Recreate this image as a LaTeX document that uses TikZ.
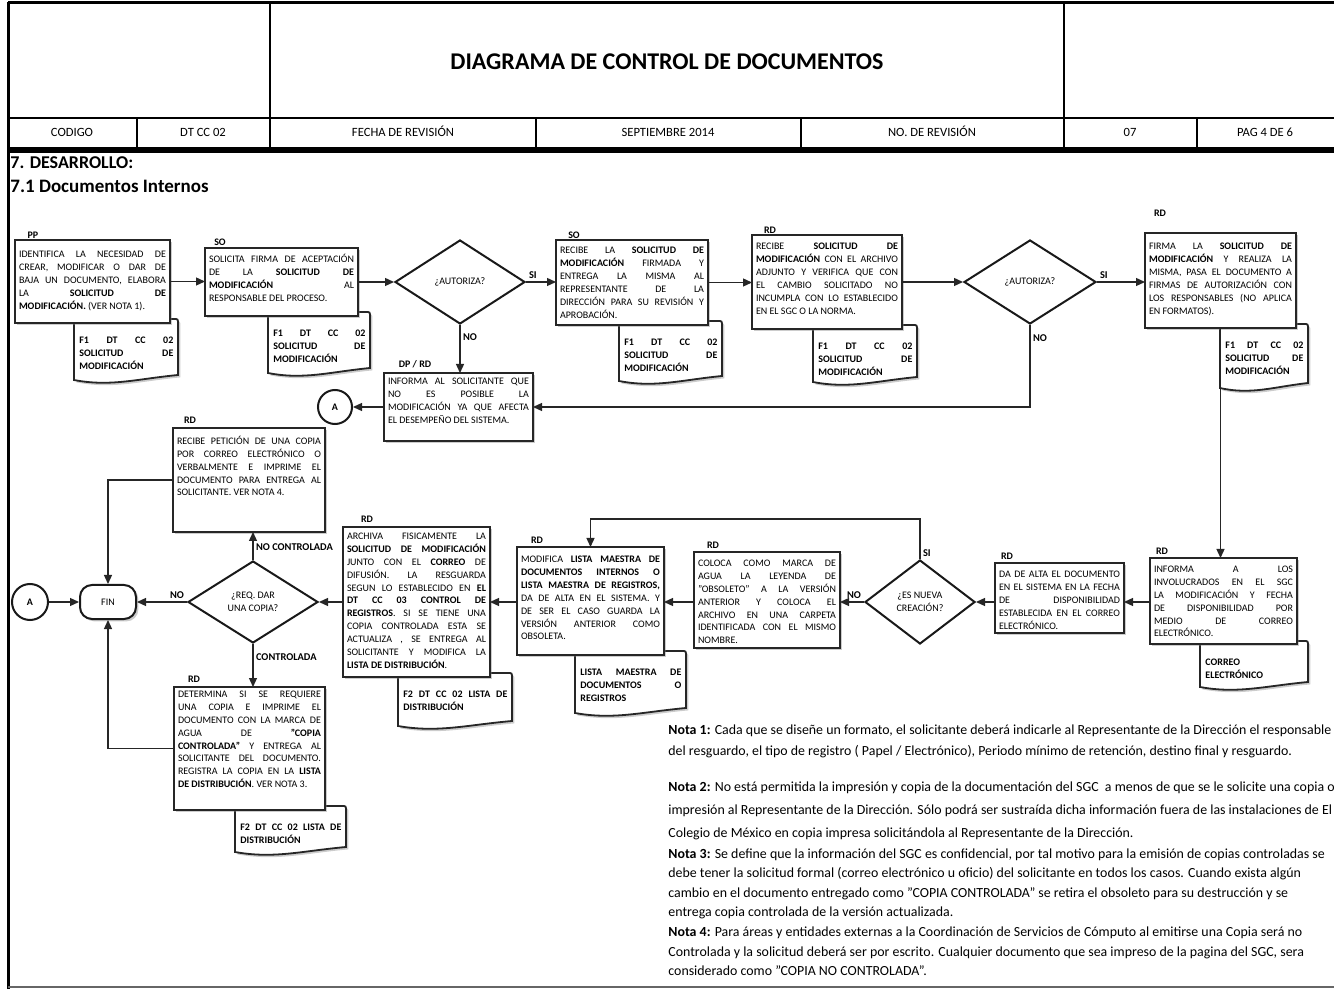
\documentclass[tikz,border=0pt]{standalone}
\usepackage{fontspec}
\setmainfont{Carlito}
\usetikzlibrary{shapes.geometric,arrows.meta,shadows,calc}
\newcommand\boxfont{\fontsize{5}{6.45}\selectfont}
\newcommand\JL[1]{\makebox[\linewidth][s]{#1}\par}
\newcommand\ProcBox[7]{%
  \pgfmathsetmacro\bw{(#4-#2)*0.5-4}%
  \pgfmathsetmacro\bh{(#5-#3)*0.5-3}%
  \node[pbox, anchor=north west] (#1) at (#2,#3) {\parbox[c][\bh pt][t]{\bw pt}{\boxfont\vspace*{#6pt}#7}};%
}
\newcommand\DocShape[6]{%
  \path[docshape] (#2,#4) -- ({#3-4},#4) .. controls (#3,#4) .. (#3,{#4+5}) -- (#3,{#5-8})
     .. controls ({#2+0.6*(#3-#2)},{#5-4}) and ({#2+0.35*(#3-#2)},{#5+4}) .. (#2,{#5-3}) -- cycle;
  \pgfmathsetmacro\dw{(#3-#2)*0.5-5}%
  \node[doctext, anchor=north west] (#1) at ({#2+5},{#4+18}) {\parbox{\dw pt}{\boxfont\bfseries #6}};%
}
\tikzset{
  shad/.style={drop shadow={shadow xshift=1.2pt, shadow yshift=-1.2pt, opacity=0.4}},
  pbox/.style={draw=black!85, line width=1.1pt, fill=white, inner xsep=2pt, inner ysep=1.5pt, outer sep=0pt, shad},
  docshape/.style={draw=black!85, line width=0.9pt, fill=white, shad},
  doctext/.style={inner sep=0pt},
  dec/.style={diamond, draw=black!90, line width=1pt, fill=white, inner sep=0pt, align=center, font=\boxfont},
  role/.style={inner sep=0pt, font=\boxfont\bfseries},
  lbl/.style={inner sep=1.2pt, font=\fontsize{5.2}{6}\selectfont\bfseries},
  arr/.style={draw=black!85, line width=0.65pt, -{Triangle[length=4.5pt,width=4pt]}},
  hdr/.style={inner sep=0pt, anchor=base, font=\fontsize{6.3}{7}\selectfont},
  conn/.style={circle, draw=black!90, line width=1pt, fill=white, inner sep=0pt, font=\boxfont\bfseries},
  term/.style={rectangle, rounded corners=6pt, draw=black!90, line width=1pt, fill=white, minimum width=28pt, minimum height=17pt, inner sep=0pt, font=\boxfont, shad},
  note/.style={inner sep=0pt, anchor=north west, align=left}
}
\begin{document}
\begin{tikzpicture}[x=0.5pt,y=-0.5pt]
\useasboundingbox (0,0) rectangle (1334,989);
% ---------- frame / header ----------
\draw[line width=1.5pt] (8,3) -- (1334,3);
\draw[line width=1.5pt] (8,2.2) -- (8,989);
\draw[line width=0.6pt] (8,118) -- (1334,118);
\draw[line width=0.6pt] (270,3) -- (270,148);
\draw[line width=0.6pt] (1064,3) -- (1064,148);
\foreach \x in {137,536,801,1197} \draw[line width=0.6pt] (\x,118) -- (\x,148);
\draw[line width=3pt] (8,150) -- (1334,150);
\draw[black!60, line width=0.8pt] (8,987) -- (1334,987);
\node[inner sep=0pt, font=\fontsize{12}{14}\selectfont\bfseries] (title) at (667,62) {DIAGRAMA DE CONTROL DE DOCUMENTOS};
\node[hdr] (h1) at (72,137) {CODIGO};
\node[hdr] (h2) at (203,137) {DT CC 02};
\node[hdr] (h3) at (403,137) {FECHA DE REVISIÓN};
\node[hdr] (h4) at (668,137) {SEPTIEMBRE 2014};
\node[hdr] (h5) at (932,137) {NO. DE REVISIÓN};
\node[hdr] (h6) at (1130,137) {07};
\node[hdr] (h7) at (1265,137) {PAG 4 DE 6};
\node[inner sep=0pt, anchor=west, font=\fontsize{9}{11}\selectfont\bfseries] (sec) at (10,163) {7. DESARROLLO:};
\node[inner sep=0pt, anchor=west, font=\fontsize{9.5}{11}\selectfont\bfseries] (sub) at (10,186) {7.1 Documentos Internos};
% ---------- documents (behind boxes) ----------
\DocShape{f1}{74}{178}{319}{383}{\JL{F1 DT CC 02}\JL{SOLICITUD DE}MODIFICACIÓN}
\DocShape{f2}{268}{370}{312}{376}{\JL{F1 DT CC 02}\JL{SOLICITUD DE}MODIFICACIÓN}
\DocShape{f3}{619}{722}{321}{384}{\JL{F1 DT CC 02}\JL{SOLICITUD DE}MODIFICACIÓN}
\DocShape{f4}{813}{917}{325}{385}{\JL{F1 DT CC 02}\JL{SOLICITUD DE}MODIFICACIÓN}
\DocShape{f5}{1220}{1308}{324}{391}{\JL{F1 DT CC 02}\JL{SOLICITUD DE}MODIFICACIÓN}
\DocShape{f7}{1200}{1308}{641}{690}{CORREO\par ELECTRÓNICO}
\DocShape{f10}{575}{686}{651}{716}{\JL{LISTA MAESTRA DE}\JL{DOCUMENTOS O}REGISTROS}
\DocShape{f11}{398}{512}{673}{729}{\JL{F2 DT CC 02 LISTA DE}DISTRIBUCIÓN}
\DocShape{f13}{235}{346}{806}{855}{\JL{F2 DT CC 02 LISTA DE}DISTRIBUCIÓN}
% ---------- process boxes ----------
\ProcBox{b1}{15}{240}{170}{323}{4}{\JL{IDENTIFICA LA NECESIDAD DE}\JL{CREAR, MODIFICAR O DAR DE}\JL{BAJA UN DOCUMENTO, ELABORA}\JL{LA \textbf{SOLICITUD} \textbf{DE}}\textbf{MODIFICACIÓN.} (VER NOTA 1).}
\ProcBox{b2}{205}{248}{358}{316}{1.5}{\JL{SOLICITA FIRMA DE ACEPTACIÓN}\JL{DE LA \textbf{SOLICITUD} \textbf{DE}}\JL{\textbf{MODIFICACIÓN} AL}RESPONSABLE DEL PROCESO.}
\ProcBox{b3}{556}{240}{708}{325}{2}{\JL{RECIBE LA \textbf{SOLICITUD} \textbf{DE}}\JL{\textbf{MODIFICACIÓN} FIRMADA Y}\JL{ENTREGA LA MISMA AL}\JL{REPRESENTANTE DE LA}\JL{DIRECCIÓN PARA SU REVISIÓN Y}APROBACIÓN.}
\ProcBox{b4}{752}{235}{902}{329}{2.5}{\JL{RECIBE \textbf{SOLICITUD} \textbf{DE}}\JL{\textbf{MODIFICACIÓN} CON EL ARCHIVO}\JL{ADJUNTO Y VERIFICA QUE CON}\JL{EL CAMBIO SOLICITADO NO}\JL{INCUMPLA CON LO ESTABLECIDO}EN EL SGC O LA NORMA.}
\ProcBox{b5}{1145}{233}{1296}{328}{3.5}{\JL{FIRMA LA \textbf{SOLICITUD} \textbf{DE}}\JL{\textbf{MODIFICACIÓN} Y REALIZA LA}\JL{MISMA, PASA EL DOCUMENTO A}\JL{FIRMAS DE AUTORIZACIÓN CON}\JL{LOS RESPONSABLES (NO APLICA}EN FORMATOS).}
\ProcBox{b6}{384}{373}{533}{441}{1}{\JL{INFORMA AL SOLICITANTE QUE}\JL{NO ES POSIBLE LA}\JL{MODIFICACIÓN YA QUE AFECTA}EL DESEMPEÑO DEL SISTEMA.}
\ProcBox{b7}{1150}{558}{1297}{644}{2.5}{\JL{INFORMA A LOS}\JL{INVOLUCRADOS EN EL SGC}\JL{LA MODIFICACIÓN Y FECHA}\JL{DE DISPONIBILIDAD POR}\JL{MEDIO DE CORREO}ELECTRÓNICO.}
\ProcBox{b8}{995}{563}{1124}{633}{2.5}{\JL{DA DE ALTA EL DOCUMENTO}\JL{EN EL SISTEMA EN LA FECHA}\JL{DE DISPONIBILIDAD}\JL{ESTABLECIDA EN EL CORREO}ELECTRÓNICO.}
\ProcBox{b9}{694}{552}{840}{648}{2.5}{\JL{COLOCA COMO MARCA DE}\JL{AGUA LA LEYENDA DE}\JL{"OBSOLETO" A LA VERSIÓN}\JL{ANTERIOR Y COLOCA EL}\JL{ARCHIVO EN UNA CARPETA}\JL{IDENTIFICADA CON EL MISMO}NOMBRE.}
\ProcBox{b10}{517}{547}{664}{655}{3}{\JL{MODIFICA \textbf{LISTA MAESTRA DE}}\JL{\textbf{DOCUMENTOS INTERNOS O}}\JL{\textbf{LISTA MAESTRA DE REGISTROS,}}\JL{DA DE ALTA EN EL SISTEMA. Y}\JL{DE SER EL CASO GUARDA LA}\JL{VERSIÓN ANTERIOR COMO}OBSOLETA.}
\ProcBox{b11}{343}{527}{490}{677}{1.5}{\JL{ARCHIVA FISICAMENTE LA}\JL{\textbf{SOLICITUD DE MODIFICACIÓN}}\JL{JUNTO CON EL \textbf{CORREO} DE}\JL{DIFUSIÓN. LA RESGUARDA}\JL{SEGUN LO ESTABLECIDO EN \textbf{EL}}\JL{\textbf{DT CC 03 CONTROL DE}}\JL{\textbf{REGISTROS}. SI SE TIENE UNA}\JL{COPIA CONTROLADA ESTA SE}\JL{ACTUALIZA , SE ENTREGA AL}\JL{SOLICITANTE Y MODIFICA LA}\textbf{LISTA DE DISTRIBUCIÓN}.}
\ProcBox{b12}{173}{428}{325}{532}{2.5}{\JL{RECIBE PETICIÓN DE UNA COPIA}\JL{POR CORREO ELECTRÓNICO O}\JL{VERBALMENTE E IMPRIME EL}\JL{DOCUMENTO PARA ENTREGA AL}SOLICITANTE. VER NOTA 4.}
\ProcBox{b13}{174}{687}{325}{810}{0.5}{\JL{DETERMINA SI SE REQUIERE}\JL{UNA COPIA E IMPRIME EL}\JL{DOCUMENTO CON LA MARCA DE}\JL{AGUA DE \textbf{"COPIA}}\JL{\textbf{CONTROLADA"} Y ENTREGA AL}\JL{SOLICITANTE DEL DOCUMENTO.}\JL{REGISTRA LA COPIA EN LA \textbf{LISTA}}\textbf{DE DISTRIBUCIÓN}. VER NOTA 3.}
% ---------- decisions, terminals, connectors ----------
\node[dec, minimum width=65pt, minimum height=42pt] (d1) at (460,282) {¿AUTORIZA?};
\node[dec, minimum width=66pt, minimum height=42pt] (d2) at (1030,282) {¿AUTORIZA?};
\node[dec, minimum width=55pt, minimum height=42pt] (d3) at (920,602) {¿ES NUEVA\\CREACIÓN?};
\node[dec, minimum width=65pt, minimum height=41pt] (d4) at (253,602) {¿REQ. DAR\\UNA COPIA?};
\node[term] (fin) at (108,602) {FIN};
\node[conn, minimum size=17pt] (A1) at (335,407) {A};
\node[conn, minimum size=18pt] (A2) at (30,602) {A};
\coordinate (r3) at (0,602);
\coordinate (siT) at (920,519);
% ---------- role labels ----------
\node[role] (p1) at (33,235) {PP};
\node[role] (p2) at (220,242) {SO};
\node[role] (p3) at (574,235) {SO};
\node[role] (p4) at (770,230) {RD};
\node[role] (p5) at (1160,213) {RD};
\node[role] (p6) at (415,364) {DP / RD};
\node[role] (p12) at (190,420) {RD};
\node[role] (p13) at (194,679) {RD};
\node[role] (p11) at (367,519) {RD};
\node[role] (p10) at (537,540) {RD};
\node[role] (p9) at (713,545) {RD};
\node[role] (p8) at (1007,556) {RD};
\node[role] (p7) at (1162,551) {RD};
% ---------- arrows ----------
\draw[arr] (b1.east) -- (b1.east -| b2.west);
\draw[arr] (b2.east) -- (b2.east -| d1.west);
\draw[arr] (d1.east) -- node[lbl, above right, pos=0]{SI} (d1.east -| b3.west);
\draw[arr] (b3.east) -- (b3.east -| b4.west);
\draw[arr] (b4.east) -- (b4.east -| d2.west);
\draw[arr] (d2.east) -- node[lbl, above right, pos=0]{SI} (d2.east -| b5.west);
\draw[arr] (d1.south) -- node[lbl, right, pos=0.25]{NO} (d1.south |- b6.north);
\draw[arr] (d2.south) |- node[lbl, right, pos=0.08]{NO} (b6.east);
\draw[arr] (b6.west) -- (A1.east);
\draw[arr] (b5.south) -- (b5.south |- b7.north);
\draw[arr] (b7.west |- r3) -- (b8.east |- r3);
\draw[arr] (b8.west |- r3) -- (d3.east);
\draw[arr] (d3.north) -- node[lbl, right, pos=0.15]{SI} (d3.north |- siT) -| (b10.north);
\draw[arr] (d3.west) -- node[lbl, above left, pos=0]{NO} (d3.west -| b9.east);
\draw[arr] (b9.west |- r3) -- (b10.east |- r3);
\draw[arr] (b10.west |- r3) -- (b11.east |- r3);
\draw[arr] (b11.west |- r3) -- (d4.east);
\draw[arr] (d4.north) -- node[lbl, right, pos=0.45]{NO CONTROLADA} (d4.north |- b12.south);
\draw[arr] (d4.south) -- node[lbl, right, pos=0.3]{CONTROLADA} (d4.south |- b13.north);
\draw[arr] (d4.west) -- node[lbl, above left, pos=0]{NO} (fin.east);
\draw[arr] (b12.west) -| (fin.north);
\draw[arr] (b13.west) -| (fin.south);
\draw[arr] (A2.east) -- (fin.west);
% ---------- notes ----------
\node[note, font=\fontsize{6.95}{10.5}\selectfont] (n1) at (668,724) {\textbf{Nota 1:} Cada que se diseñe un formato, el solicitante deberá indicarle al Representante de la Dirección el responsable\\del resguardo, el tipo de registro ( Papel / Electrónico), Periodo mínimo de retención, destino final y resguardo.};
\node[note, font=\fontsize{6.95}{11.5}\selectfont] (n2) at (668,781) {\textbf{Nota 2:} No está permitida la impresión y copia de la documentación del SGC \ a menos de que se le solicite una copia o\\impresión al Representante de la Dirección. Sólo podrá ser sustraída dicha información fuera de las instalaciones de El\\Colegio de México en copia impresa solicitándola al Representante de la Dirección.};
\node[note, font=\fontsize{6.95}{9.8}\selectfont] (n3) at (668,848) {\textbf{Nota 3:} Se define que la información del SGC es confidencial, por tal motivo para la emisión de copias controladas se\\debe tener la solicitud formal (correo electrónico u oficio) del solicitante en todos los casos. Cuando exista algún\\cambio en el documento entregado como "COPIA CONTROLADA" se retira el obsoleto para su destrucción y se\\entrega copia controlada de la versión actualizada.\\\textbf{Nota 4:} Para áreas y entidades externas a la Coordinación de Servicios de Cómputo al emitirse una Copia será no\\Controlada y la solicitud deberá ser por escrito. Cualquier documento que sea impreso de la pagina del SGC, sera\\considerado como "COPIA NO CONTROLADA".};
\end{tikzpicture}
\end{document}
